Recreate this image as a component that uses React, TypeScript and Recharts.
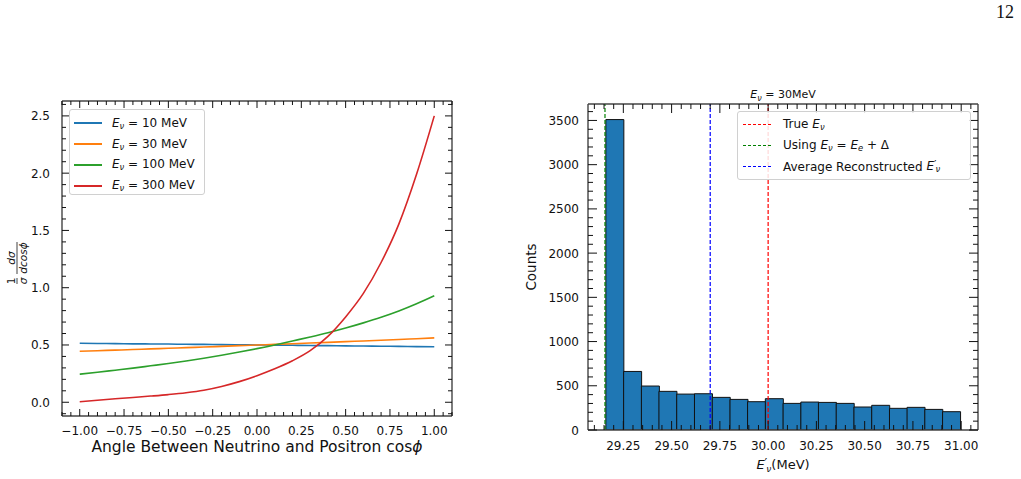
import {
  LineChart,
  Line,
  BarChart,
  Bar,
  XAxis,
  YAxis,
  ReferenceLine,
  Legend,
  Label,
} from "recharts";

// ---- left panel: angular distribution ----
const cosPhi = [-1.0, -0.9, -0.8, -0.7, -0.6, -0.5, -0.4, -0.3, -0.2, -0.1, 0.0, 0.1, 0.2, 0.3, 0.4, 0.5, 0.6, 0.7, 0.8, 0.9, 1.0];
const e10 = [0.515, 0.513, 0.512, 0.510, 0.509, 0.508, 0.506, 0.505, 0.503, 0.502, 0.500, 0.499, 0.497, 0.495, 0.494, 0.492, 0.491, 0.489, 0.488, 0.486, 0.485];
const e30 = [0.445, 0.450, 0.455, 0.460, 0.466, 0.471, 0.477, 0.482, 0.488, 0.494, 0.500, 0.505, 0.511, 0.517, 0.523, 0.529, 0.535, 0.541, 0.548, 0.555, 0.562];
const e100 = [0.245, 0.262, 0.280, 0.298, 0.318, 0.338, 0.360, 0.384, 0.410, 0.438, 0.468, 0.500, 0.535, 0.570, 0.607, 0.648, 0.693, 0.742, 0.797, 0.860, 0.930];
const e300 = [0.005, 0.018, 0.030, 0.042, 0.054, 0.067, 0.083, 0.105, 0.138, 0.180, 0.232, 0.292, 0.362, 0.450, 0.575, 0.745, 0.950, 1.220, 1.555, 1.990, 2.500];

const seriesNames = ["10 MeV", "30 MeV", "100 MeV", "300 MeV"];
const seriesKeys = ["e10", "e30", "e100", "e300"];
const seriesColors = ["#1f77b4", "#ff7f0e", "#2ca02c", "#d62728"];

const leftXMajor = [-1, -0.75, -0.5, -0.25, 0, 0.25, 0.5, 0.75, 1];
const leftYMajor = [0, 0.5, 1, 1.5, 2, 2.5];

// ---- right panel: reconstructed energy histogram ----
const binCenters = [29.205, 29.297, 29.389, 29.480, 29.572, 29.664, 29.756, 29.848, 29.939, 30.031, 30.123, 30.215, 30.306, 30.398, 30.490, 30.582, 30.674, 30.765, 30.857, 30.949];
const counts = [3510, 662, 497, 437, 406, 410, 369, 346, 320, 354, 301, 316, 312, 301, 260, 279, 245, 256, 233, 207];

const trueE = 30.0;
const usingE = 29.155;
const avgE = 29.70;

const rightXMajor = [29.25, 29.5, 29.75, 30.0, 30.25, 30.5, 30.75, 31.0];
const rightYMajor = [0, 500, 1000, 1500, 2000, 2500, 3000, 3500];

const lineData = cosPhi.map((x, i) => ({ x, e10: e10[i], e30: e30[i], e100: e100[i], e300: e300[i] }));
const histData = binCenters.map((c, i) => ({ c, n: counts[i] }));

function steps(from: number, to: number, step: number) {
  const out: number[] = [];
  const n = Math.round((to - from) / step);
  for (let i = 0; i <= n; i++) out.push(+(from + i * step).toFixed(4));
  return out;
}

const FONT = "DejaVu Sans, sans-serif";

function makeTick(side: string, majors: number[], fmt: (v: number) => string, majorLen: number, minorLen: number, labelOff: number) {
  return (props: any) => {
    const { x, y, payload } = props;
    const v = payload.value;
    const isMajor = majors.some((m) => Math.abs(m - v) < 1e-6);
    const len = isMajor ? majorLen : minorLen;
    let line;
    let label = null;
    if (side === "bottom") {
      line = <line x1={x} x2={x} y1={y} y2={y - len} stroke="#111" strokeWidth={1} />;
      if (isMajor) label = <text x={x} y={y + labelOff} textAnchor="middle" fontSize={12} fill="#111">{fmt(v)}</text>;
    } else if (side === "top") {
      line = <line x1={x} x2={x} y1={y} y2={y + len} stroke="#111" strokeWidth={1} />;
    } else if (side === "left") {
      line = <line x1={x} x2={x + len} y1={y} y2={y} stroke="#111" strokeWidth={1} />;
      if (isMajor) label = <text x={x - labelOff} y={y + 4.5} textAnchor="end" fontSize={12} fill="#111">{fmt(v)}</text>;
    } else {
      line = <line x1={x} x2={x - len} y1={y} y2={y} stroke="#111" strokeWidth={1} />;
    }
    return (
      <g>
        {line}
        {label}
      </g>
    );
  };
}

const minus = (s: string) => s.replace("-", "\u2212");
const frame = { stroke: "#444", strokeWidth: 1.4 };

function Ev({ prime }: { prime?: boolean }) {
  return (
    <span>
      <i>E</i>
      {prime ? <span style={{ fontSize: "0.9em", verticalAlign: "0.15em" }}>′</span> : null}
      <sub style={{ fontSize: "0.7em", fontStyle: "italic", verticalAlign: "-0.25em", marginLeft: prime ? -1 : 0 }}>ν</sub>
    </span>
  );
}

const legendBox: React.CSSProperties = {
  background: "rgba(255,255,255,0.85)",
  border: "1px solid #d0d0d0",
  borderRadius: 3,
  fontFamily: FONT,
  fontSize: 12,
  color: "#111",
  boxSizing: "border-box",
};

function LeftLegend() {
  return (
    <div style={{ ...legendBox, width: 136, height: 86, padding: "3px 0 0 4px" }}>
      {seriesNames.map((name, i) => (
        <div key={name} style={{ display: "flex", alignItems: "center", height: 20.8, whiteSpace: "nowrap" }}>
          <span style={{ display: "inline-block", width: 28, height: 2, background: seriesColors[i], marginRight: 10 }} />
          <span>
            <Ev /> = {name}
          </span>
        </div>
      ))}
    </div>
  );
}

const refColors = ["red", "green", "blue"];

function RightLegend() {
  const labels = [
    <span key="a">True <Ev /></span>,
    <span key="b">Using <Ev /> = <i>E</i><sub style={{ fontSize: "0.7em", fontStyle: "italic", verticalAlign: "-0.25em" }}>e</sub> + Δ</span>,
    <span key="c">Average Reconstructed <Ev prime /></span>,
  ];
  return (
    <div style={{ ...legendBox, width: 234, height: 69, padding: "2px 0 0 5px" }}>
      {labels.map((lab, i) => (
        <div key={i} style={{ display: "flex", alignItems: "center", height: 21, whiteSpace: "nowrap" }}>
          <span style={{ display: "inline-block", width: 28, height: 0, borderTop: `1.5px dashed ${refColors[i]}`, marginRight: 12 }} />
          {lab}
        </div>
      ))}
    </div>
  );
}

function LeftYLabel() {
  return (
    <g transform="translate(17,262) rotate(-90)" fontSize={10.5} fill="#111">
      <text x={-19} y={-2} textAnchor="middle">1</text>
      <line x1={-22} x2={-16} y1={0} y2={0} stroke="#111" strokeWidth={0.8} />
      <text x={-19} y={9.5} textAnchor="middle" fontStyle="italic">σ</text>
      <text x={4} y={-2} textAnchor="middle" fontStyle="italic">dσ</text>
      <line x1={-12} x2={20} y1={0} y2={0} stroke="#111" strokeWidth={0.8} />
      <text x={4} y={9.5} textAnchor="middle" fontStyle="italic">dcosϕ</text>
    </g>
  );
}

export default function App() {
  const lxTicks = steps(-1.1, 1.1, 0.05);
  const lyTicks = steps(-0.1, 2.6, 0.1);
  const rxTicks = steps(29.1, 31.05, 0.05);
  const ryTicks = steps(0, 3600, 100);
  const lxDomain = [-1.1, 1.1];
  const lyDomain = [-0.12, 2.63];
  const rxDomain = [29.067, 31.087];
  const ryDomain = [0, 3686];

  return (
    <div style={{ position: "absolute", left: 0, top: 0, width: 1021, height: 479, background: "#fff", fontFamily: FONT }}>
      <div style={{ position: "absolute", left: 996, top: 2, fontFamily: "Liberation Serif, serif", fontSize: 18, lineHeight: "20px", color: "#111" }}>12</div>

      <div style={{ position: "absolute", left: 0, top: 0 }}>
        <LineChart width={500} height={479} data={lineData} margin={{ top: 100, left: 61, right: 47, bottom: 62 }}>
          <XAxis xAxisId="b" dataKey="x" type="number" domain={lxDomain} allowDataOverflow ticks={lxTicks} interval={0} height={1} tickSize={0} tickMargin={0} axisLine={frame} tickLine={false}
            tick={makeTick("bottom", leftXMajor, (v) => minus(v.toFixed(2)), 7, 4, 19)}>
            <Label content={() => (
              <text x={257} y={452} textAnchor="middle" fontSize={15.5} fill="#111">
                Angle Between Neutrino and Positron cos<tspan fontStyle="italic">ϕ</tspan>
              </text>
            )} />
          </XAxis>
          <XAxis xAxisId="t" dataKey="x" orientation="top" type="number" domain={lxDomain} allowDataOverflow ticks={lxTicks} interval={0} height={1} tickSize={0} tickMargin={0} axisLine={frame} tickLine={false}
            tick={makeTick("top", leftXMajor, () => "", 7, 4, 0)} />
          <YAxis yAxisId="l" type="number" domain={lyDomain} allowDataOverflow ticks={lyTicks} interval={0} width={1} tickSize={0} tickMargin={0} axisLine={frame} tickLine={false}
            tick={makeTick("left", leftYMajor, (v) => v.toFixed(1), 7, 4, 12)}>
            <Label content={() => <LeftYLabel />} />
          </YAxis>
          <YAxis yAxisId="r" orientation="right" type="number" domain={lyDomain} allowDataOverflow ticks={lyTicks} interval={0} width={1} tickSize={0} tickMargin={0} axisLine={frame} tickLine={false}
            tick={makeTick("right", leftYMajor, () => "", 7, 4, 0)} />
          {seriesKeys.map((k, i) => (
            <Line key={k} xAxisId="b" yAxisId="l" dataKey={k} type="monotone" stroke={seriesColors[i]} strokeWidth={1.6} dot={false} isAnimationActive={false} />
          ))}
          <Legend layout="vertical" align="center" verticalAlign="middle" wrapperStyle={{ left: 69, top: 109, width: 136 }} content={() => <LeftLegend />} />
        </LineChart>
      </div>

      <div style={{ position: "absolute", left: 500, top: 0 }}>
        <BarChart width={521} height={479} data={histData} margin={{ top: 103, left: 87, right: 42, bottom: 48 }} barCategoryGap={0} barGap={0}>
          <text x={283} y={98} textAnchor="middle" fontSize={11} fill="#111">
            <tspan fontStyle="italic">E</tspan>
            <tspan fontStyle="italic" fontSize={8} dy={2.5}>ν</tspan>
            <tspan dy={-2.5}> = 30MeV</tspan>
          </text>
          <XAxis xAxisId="b" dataKey="c" type="number" domain={rxDomain} allowDataOverflow ticks={rxTicks} interval={0} height={1} tickSize={0} tickMargin={0} axisLine={frame} tickLine={false}
            tick={makeTick("bottom", rightXMajor, (v) => v.toFixed(2), 9, 5, 20)}>
            <Label content={() => (
              <text x={283} y={469} textAnchor="middle" fontSize={13} fill="#111">
                <tspan fontStyle="italic">E</tspan>
                <tspan fontSize={12} dy={-2}>′</tspan>
                <tspan fontStyle="italic" fontSize={9} dx={-1} dy={5}>ν</tspan>
                <tspan dy={-3}>(MeV)</tspan>
              </text>
            )} />
          </XAxis>
          <XAxis xAxisId="t" dataKey="c" orientation="top" type="number" domain={rxDomain} allowDataOverflow ticks={rxTicks} interval={0} height={1} tickSize={0} tickMargin={0} axisLine={frame} tickLine={false}
            tick={makeTick("top", rightXMajor, () => "", 9, 5, 0)} />
          <YAxis yAxisId="l" type="number" domain={ryDomain} allowDataOverflow ticks={ryTicks} interval={0} width={1} tickSize={0} tickMargin={0} axisLine={frame} tickLine={false}
            tick={makeTick("left", rightYMajor, (v) => String(v), 9, 5, 9)}>
            <Label content={() => (
              <text transform="translate(36,267) rotate(-90)" textAnchor="middle" fontSize={13.5} fill="#111">Counts</text>
            )} />
          </YAxis>
          <YAxis yAxisId="r" orientation="right" type="number" domain={ryDomain} allowDataOverflow ticks={ryTicks} interval={0} width={1} tickSize={0} tickMargin={0} axisLine={frame} tickLine={false}
            tick={makeTick("right", rightYMajor, () => "", 9, 5, 0)} />
          <Bar xAxisId="b" yAxisId="l" dataKey="n" fill="#1f77b4" stroke="#111" strokeWidth={1} isAnimationActive={false} />
          <ReferenceLine xAxisId="b" yAxisId="l" x={trueE} stroke={refColors[0]} strokeDasharray="4 2" strokeWidth={1.2} />
          <ReferenceLine xAxisId="b" yAxisId="l" x={usingE} stroke={refColors[1]} strokeDasharray="4 2" strokeWidth={1.2} />
          <ReferenceLine xAxisId="b" yAxisId="l" x={avgE} stroke={refColors[2]} strokeDasharray="4 2" strokeWidth={1.2} />
          <Legend layout="vertical" align="center" verticalAlign="middle" wrapperStyle={{ left: 237, top: 111, width: 234 }} content={() => <RightLegend />} />
        </BarChart>
      </div>
    </div>
  );
}
